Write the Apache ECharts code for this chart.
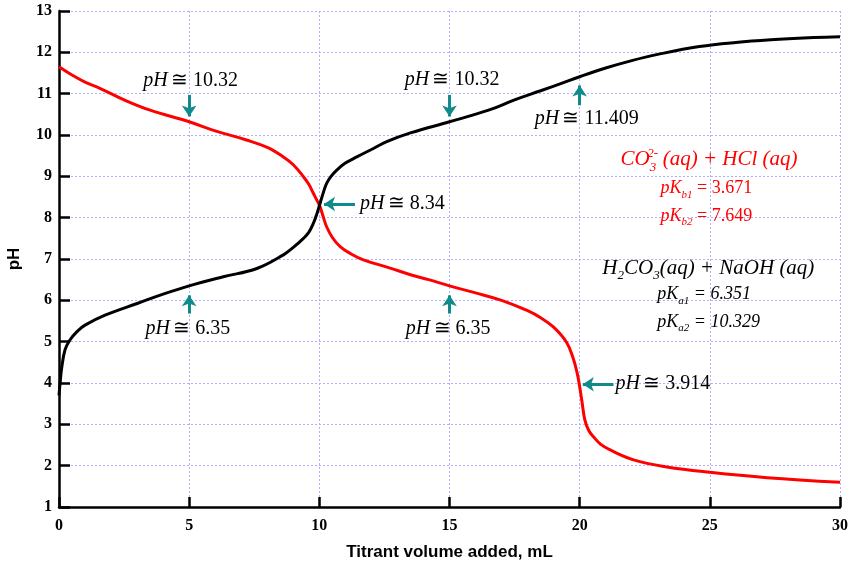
<!DOCTYPE html>
<html>
<head>
<meta charset="utf-8">
<script src="https://cdn.jsdelivr.net/npm/echarts@6/dist/echarts.min.js"></script>
<style>html,body{margin:0;padding:0;background:#fff}#c{width:854px;height:567px}</style>
</head>
<body>
<div id="c"></div>
<script>
// H2CO3(aq) + NaOH(aq) titration curve (black)
const blackX = [0, 0.02, 0.05, 0.1, 0.23, 0.42, 0.7, 1.0, 1.77, 3.03, 4.0, 5.0, 6.31, 7.6, 8.62, 9.0, 9.39, 9.6, 9.77, 9.9, 10.03, 10.15, 10.28, 10.45, 10.67, 11.0, 11.44, 12.0, 12.59, 13.5, 15, 16.5, 17.5, 18.5, 19.3, 20, 21, 22, 23, 24.6, 26, 27.5, 29, 30];
const blackY = [3.7, 3.85, 4.05, 4.35, 4.8, 5.04, 5.25, 5.4, 5.64, 5.93, 6.15, 6.35, 6.57, 6.77, 7.1, 7.28, 7.5, 7.65, 7.86, 8.08, 8.35, 8.6, 8.83, 9.0, 9.15, 9.32, 9.47, 9.65, 9.84, 10.05, 10.32, 10.6, 10.85, 11.07, 11.25, 11.41, 11.62, 11.8, 11.95, 12.14, 12.24, 12.31, 12.36, 12.38];
// CO3^2-(aq) + HCl(aq) titration curve (red)
const redX = [0, 0.5, 1, 1.57, 2.5, 3.5, 5, 6, 7.2, 8, 8.62, 9, 9.39, 9.6, 9.77, 9.9, 10.03, 10.15, 10.28, 10.5, 10.8, 11.2, 11.69, 12.72, 13.5, 14.2, 15, 16, 17, 18, 18.5, 19, 19.5, 19.75, 19.9, 20, 20.08, 20.2, 20.35, 20.53, 20.8, 21.17, 22.07, 23.35, 25, 27.2, 30];
const redY = [11.65, 11.45, 11.28, 11.13, 10.85, 10.6, 10.32, 10.1, 9.88, 9.7, 9.47, 9.28, 8.99, 8.8, 8.59, 8.43, 8.26, 8.02, 7.78, 7.52, 7.3, 7.13, 6.98, 6.78, 6.62, 6.5, 6.35, 6.18, 6.0, 5.75, 5.58, 5.35, 4.98, 4.6, 4.25, 3.91, 3.59, 3.1, 2.85, 2.7, 2.52, 2.38, 2.14, 1.97, 1.84, 1.71, 1.6];

// annotation values
const phLabels = ["10.32", "10.32", "11.409", "6.35", "6.35", "8.34", "3.914"];
const pKb = ["3.671", "7.649"];
const pKa = ["6.351", "10.329"];

const teal = '#0f8b8b';
const serif = '"Liberation Serif", "Times New Roman", serif';

const richBase = {
  i: {fontFamily: serif, fontStyle: 'italic', fontSize: 20, color: '#000', lineHeight: 24},
  n: {fontFamily: serif, fontSize: 20, color: '#000', lineHeight: 24}
};
function phText(v) { return '{i|pH} {n|\u2245 ' + v + '}'; }

function textPoint(coord, formatter, align, rich) {
  return {
    coord: coord,
    symbol: 'rect', symbolSize: 1,
    itemStyle: {color: 'rgba(0,0,0,0)'},
    label: {
      show: true, formatter: formatter,
      position: align === 'left' ? 'right' : 'inside',
      distance: 0,
      rich: rich || richBase
    }
  };
}

const redRich = {
  t: {fontFamily: serif, fontStyle: 'italic', fontSize: 21, color: '#ff0000', lineHeight: 28},
  s: {fontFamily: serif, fontStyle: 'italic', fontSize: 13, color: '#ff0000', lineHeight: 13, verticalAlign: 'bottom', width: 13},
  p: {fontFamily: serif, fontStyle: 'italic', fontSize: 18, color: '#ff0000', lineHeight: 24},
  ps: {fontFamily: serif, fontStyle: 'italic', fontSize: 11, color: '#ff0000', lineHeight: 10, verticalAlign: 'bottom'},
  pn: {fontFamily: serif, fontSize: 18, color: '#ff0000', lineHeight: 24},
  sup: {fontFamily: serif, fontStyle: 'italic', fontSize: 13, color: '#ff0000'}
};
const blackRich = {
  t: {fontFamily: serif, fontStyle: 'italic', fontSize: 21, color: '#000', lineHeight: 28},
  s: {fontFamily: serif, fontStyle: 'italic', fontSize: 13, color: '#000', lineHeight: 13, verticalAlign: 'bottom'},
  p: {fontFamily: serif, fontStyle: 'italic', fontSize: 18, color: '#000', lineHeight: 24},
  ps: {fontFamily: serif, fontStyle: 'italic', fontSize: 11, color: '#000', lineHeight: 10, verticalAlign: 'bottom'},
  pn: {fontFamily: serif, fontStyle: 'italic', fontSize: 18, color: '#000', lineHeight: 24}
};

function arrow(from, to) {
  return [{coord: from}, {coord: to}];
}

const option = {
  animation: false,
  backgroundColor: '#fff',
  grid: {left: 59, right: 14, top: 11, bottom: 60, containLabel: false, outerBoundsMode: 'none'},
  xAxis: {
    type: 'value', min: 0, max: 30, interval: 5,
    name: 'Titrant volume added, mL', nameLocation: 'middle', nameGap: 37,
    nameTextStyle: {fontFamily: '"Liberation Sans", Arial, sans-serif', fontWeight: 'bold', fontSize: 17, color: '#000'},
    axisLine: {lineStyle: {color: '#000', width: 2.5}},
    axisTick: {inside: true, length: 10, lineStyle: {color: '#000', width: 2.5}},
    axisLabel: {fontFamily: serif, fontWeight: 'bold', fontSize: 16, color: '#000', margin: 11},
    splitLine: {show: true, lineStyle: {color: '#b0b0ff', type: [2, 2], width: 1}}
  },
  yAxis: {
    type: 'value', min: 1, max: 13, interval: 1,
    name: 'pH', nameLocation: 'middle', nameGap: 36,
    nameTextStyle: {fontFamily: '"Liberation Sans", Arial, sans-serif', fontWeight: 'bold', fontSize: 17, color: '#000'},
    axisLine: {show: true, lineStyle: {color: '#000', width: 2.5}},
    axisTick: {show: true, inside: true, length: 11, lineStyle: {color: '#000', width: 2.5}},
    axisLabel: {fontFamily: serif, fontWeight: 'bold', fontSize: 16, color: '#000', margin: 7},
    splitLine: {show: true, lineStyle: {color: '#b0b0ff', type: [2, 2], width: 1}}
  },
  series: [
    {
      name: 'H2CO3 + NaOH', type: 'line', showSymbol: false, smooth: 0.4,
      lineStyle: {color: '#000', width: 3}, itemStyle: {color: '#000'},
      data: blackX.map((x, i) => [x, blackY[i]]),
      z: 3
    },
    {
      name: 'CO3 + HCl', type: 'line', showSymbol: false, smooth: 0.4,
      lineStyle: {color: '#ff0000', width: 3}, itemStyle: {color: '#ff0000'},
      data: redX.map((x, i) => [x, redY[i]]),
      z: 2
    },
    {
      name: 'annotations', type: 'line', data: [], silent: true, z: 5,
      markLine: {
        silent: true, symbol: ['none', 'arrow'], symbolSize: [11, 11],
        label: {show: false},
        lineStyle: {color: teal, width: 3, type: 'solid'},
        emphasis: {disabled: true},
        data: [
          arrow([5, 10.97], [5, 10.45]),
          arrow([15, 10.97], [15, 10.45]),
          arrow([20, 10.72], [20, 11.2]),
          arrow([5, 5.68], [5, 6.12]),
          arrow([15, 5.68], [15, 6.12]),
          arrow([11.37, 8.33], [10.18, 8.33]),
          arrow([21.3, 3.97], [20.12, 3.97])
        ]
      },
      markPoint: {
        silent: true,
        data: [
          textPoint([5.06, 11.31], phText(phLabels[0])),
          textPoint([15.1, 11.33], phText(phLabels[1])),
          textPoint([20.27, 10.4], phText(phLabels[2])),
          textPoint([4.95, 5.32], phText(phLabels[3])),
          textPoint([14.95, 5.32], phText(phLabels[4])),
          textPoint([11.54, 8.33], phText(phLabels[5]), 'left'),
          textPoint([21.36, 3.97], phText(phLabels[6]), 'left'),
          textPoint([21.55, 9.4], '{t|CO}{s|3}{t|(aq) + HCl (aq)}', 'left', redRich),
          textPoint([22.58, 9.55], '{sup|2-}', 'left', redRich),
          textPoint([23.09, 8.71], '{p|pK}{ps|b1}{pn| = ' + pKb[0] + '}', 'left', redRich),
          textPoint([23.09, 8.04], '{p|pK}{ps|b2}{pn| = ' + pKb[1] + '}', 'left', redRich),
          textPoint([20.85, 6.77], '{t|H}{s|2}{t|CO}{s|3}{t|(aq) + NaOH (aq)}', 'left', blackRich),
          textPoint([22.96, 6.15], '{p|pK}{ps|a1}{pn| = ' + pKa[0] + '}', 'left', blackRich),
          textPoint([22.96, 5.48], '{p|pK}{ps|a2}{pn| = ' + pKa[1] + '}', 'left', blackRich)
        ]
      }
    }
  ]
};

const chart = echarts.init(document.getElementById('c'), null, {renderer: 'canvas'});
chart.setOption(option);
</script>
</body>
</html>
